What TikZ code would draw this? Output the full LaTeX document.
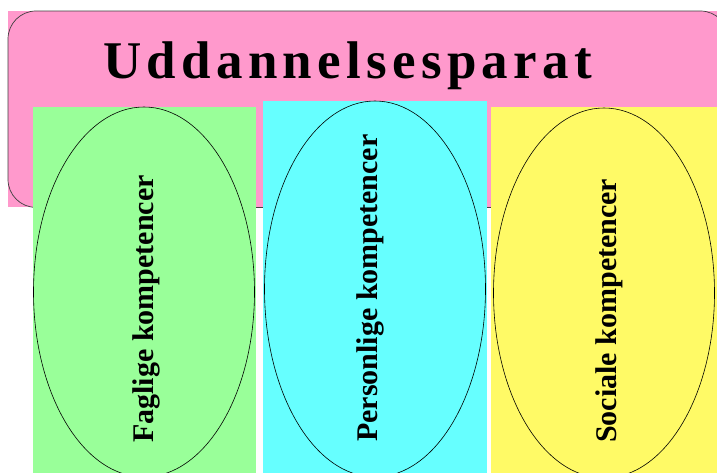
\documentclass[tikz,border=0pt]{standalone}
\usepackage{fontspec}
\setmainfont{Liberation Serif}
\newfontfamily\titelfont[LetterSpace=10]{Liberation Serif}
\usetikzlibrary{shapes.geometric}
\definecolor{aparatPink}{RGB}{255,153,204}
\definecolor{fagGreen}{RGB}{153,255,153}
\definecolor{persCyan}{RGB}{102,255,255}
\definecolor{socYellow}{RGB}{255,250,102}

\begin{document}
\begin{tikzpicture}[
  x=1pt, y=-1pt,
  kasse/.style={
    rectangle,
    anchor=north west,
    inner sep=0pt,
    minimum height=380pt,
  },
  oval/.style={
    ellipse,
    draw=black,
    line width=0.6pt,
    inner sep=0pt,
    minimum width=221pt,
    minimum height=370pt,
  },
  lodret/.style={
    rotate=90,
    anchor=base west,
    inner sep=0pt,
    font=\fontsize{30}{34}\selectfont\bfseries,
  },
]

  \useasboundingbox (0,0) rectangle (717,473);
  \fill[white] (0,0) rectangle (717,473);

  % overkasse
  \node[rectangle, anchor=north west, inner sep=0pt, fill=aparatPink,
        minimum width=720pt, minimum height=196pt] (aparat) at (8,11) {};
  \draw[black!75, line width=0.7pt, rounded corners=28pt]
    (aparat.north west) rectangle (aparat.south east);
  \node[anchor=base west, inner sep=0pt,
        font=\titelfont\fontsize{53}{60}\selectfont\bfseries] (titel)
    at (103,79) {Uddannelsesparat};

  % de tre kompetencer
  \node[kasse, fill=fagGreen, minimum width=223pt] (fag) at (33,107) {};
  \node[kasse, fill=persCyan, minimum width=224pt] (pers) at (263,101) {};
  \node[kasse, fill=socYellow, minimum width=226pt] (soc) at (491,107) {};

  \node[oval] (fagoval) at (144,292) {};
  \node[oval, minimum height=376pt] (persoval) at (375,289) {};
  \node[oval] (socoval) at (604,293) {};

  \node[lodret] (fagtekst) at (153,443) {Faglige kompetencer};
  \node[lodret] (perstekst) at (377,442) {Personlige kompetencer};
  \node[lodret] (soctekst) at (616,443) {Sociale kompetencer};

\end{tikzpicture}
\end{document}
